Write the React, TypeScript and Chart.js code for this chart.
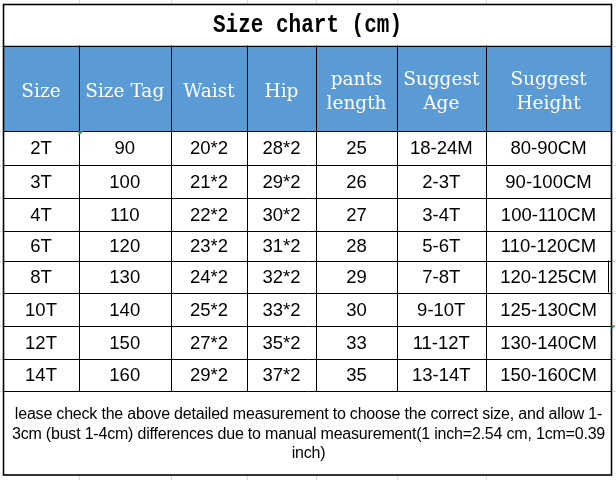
import React, { useEffect, useRef } from "react";
import { Chart, registerables } from "chart.js";

Chart.register(...registerables);

// ---- data ----
const titleText = "Size chart (cm)";
const headers: string[][] = [
  ["Size"],
  ["Size Tag"],
  ["Waist"],
  ["Hip"],
  ["pants", "length"],
  ["Suggest", "Age"],
  ["Suggest", "Height"],
];
const sizes = ["2T", "3T", "4T", "6T", "8T", "10T", "12T", "14T"];
const sizeTags = [90, 100, 110, 120, 130, 140, 150, 160];
const waist = ["20*2", "21*2", "22*2", "23*2", "24*2", "25*2", "27*2", "29*2"];
const hip = ["28*2", "29*2", "30*2", "31*2", "32*2", "33*2", "35*2", "37*2"];
const pantsLength = [25, 26, 27, 28, 29, 30, 33, 35];
const suggestAge = ["18-24M", "2-3T", "3-4T", "5-6T", "7-8T", "9-10T", "11-12T", "13-14T"];
const suggestHeight = [
  "80-90CM",
  "90-100CM",
  "100-110CM",
  "110-120CM",
  "120-125CM",
  "125-130CM",
  "130-140CM",
  "150-160CM",
];
const noteLines = [
  "lease check the above detailed measurement to choose the correct size, and allow 1-",
  "3cm (bust 1-4cm) differences due to manual measurement(1 inch=2.54 cm, 1cm=0.39",
  "inch)",
];

// ---- layout (scale units) ----
const COL_EDGES = [3.5, 78.5, 171, 247, 316, 397, 485.5, 611.5];
const TITLE_TOP = 4.5;
const HEADER_TOP = 45.5;
const ROW_EDGES = [131, 164.5, 197.5, 230.5, 260.5, 292.5, 325.5, 358.5, 391];
const TABLE_BOTTOM = 475;
const W = 616;
const H = 480;

const tablePlugin = {
  id: "sizeTable",
  beforeDatasetsDraw(chart: any) {
    const ctx: CanvasRenderingContext2D = chart.ctx;
    const xs = chart.scales.x;
    const ys = chart.scales.y;
    const px = (v: number) => xs.getPixelForValue(v);
    const py = (v: number) => ys.getPixelForValue(v);
    const L = COL_EDGES[0];
    const R = COL_EDGES[COL_EDGES.length - 1];
    ctx.save();
    ctx.fillStyle = "#ffffff";
    ctx.fillRect(px(0), py(0), px(W) - px(0), py(H) - py(0));

    // faint spreadsheet gridlines outside the table
    ctx.strokeStyle = "#d9d9d9";
    ctx.lineWidth = 1;
    ctx.beginPath();
    for (let i = 1; i < COL_EDGES.length - 1; i++) {
      const x = Math.round(px(COL_EDGES[i])) + 0.5;
      ctx.moveTo(x, py(0));
      ctx.lineTo(x, py(TITLE_TOP));
      ctx.moveTo(x, py(TABLE_BOTTOM));
      ctx.lineTo(x, py(H));
    }
    [HEADER_TOP, ...ROW_EDGES].forEach((e) => {
      const y = Math.round(py(e)) + 0.5;
      ctx.moveTo(px(0), y);
      ctx.lineTo(px(L), y);
      ctx.moveTo(px(R), y);
      ctx.lineTo(px(W), y);
    });
    ctx.stroke();

    // header background
    ctx.fillStyle = "#5b9bd5";
    ctx.fillRect(px(L), py(HEADER_TOP), px(R) - px(L), py(ROW_EDGES[0]) - py(HEADER_TOP));

    // title
    ctx.fillStyle = "#000000";
    ctx.textAlign = "center";
    ctx.textBaseline = "middle";
    ctx.font = "bold 21px 'Liberation Mono', monospace";
    ctx.save();
    ctx.translate(px((L + R) / 2), py((TITLE_TOP + HEADER_TOP) / 2) + 1);
    ctx.scale(1, 1.2);
    ctx.fillText(titleText, 0, 0);
    ctx.restore();

    // header text
    ctx.fillStyle = "#ffffff";
    ctx.font = "18.5px 'DejaVu Serif', serif";
    const hMid = (HEADER_TOP + ROW_EDGES[0]) / 2 + 3.5;
    headers.forEach((lines, c) => {
      const cx = px((COL_EDGES[c] + COL_EDGES[c + 1]) / 2);
      if (lines.length === 1) {
        ctx.fillText(lines[0], cx, py(hMid));
      } else {
        ctx.fillText(lines[0], cx, py(hMid - 12));
        ctx.fillText(lines[1], cx, py(hMid + 12.5));
      }
    });

    // data text
    const cols: (string | number)[][] = [sizes, sizeTags, waist, hip, pantsLength, suggestAge, suggestHeight];
    ctx.fillStyle = "#000000";
    ctx.font = "18.5px 'Liberation Sans', Arial, sans-serif";
    for (let r = 0; r < sizes.length; r++) {
      const cy = py((ROW_EDGES[r] + ROW_EDGES[r + 1]) / 2) + 1.5;
      cols.forEach((col, c) => {
        const cx = px((COL_EDGES[c] + COL_EDGES[c + 1]) / 2);
        ctx.fillText(String(col[r]), cx, cy);
      });
    }

    // note text
    ctx.font = "16px 'Liberation Sans', Arial, sans-serif";
    (ctx as any).letterSpacing = "-0.2px";
    const noteY = [415, 434.5, 454];
    noteLines.forEach((t, i) => {
      ctx.fillText(t, px((L + R) / 2 + 1), py(noteY[i]));
    });
    (ctx as any).letterSpacing = "0px";

    // inner lines
    ctx.strokeStyle = "#000000";
    ctx.lineWidth = 1;
    ctx.beginPath();
    for (let i = 1; i < COL_EDGES.length - 1; i++) {
      const x = Math.round(px(COL_EDGES[i])) + 0.5;
      ctx.moveTo(x, py(HEADER_TOP));
      ctx.lineTo(x, py(ROW_EDGES[ROW_EDGES.length - 1]));
    }
    [HEADER_TOP, ...ROW_EDGES].forEach((e) => {
      const y = Math.round(py(e)) + 0.5;
      ctx.moveTo(px(L), y);
      ctx.lineTo(px(R), y);
    });
    // small extra cell edge in the 8T row
    const xe = Math.round(px(608)) + 0.5;
    ctx.moveTo(xe, py(ROW_EDGES[4]));
    ctx.lineTo(xe, py(ROW_EDGES[5]));
    ctx.stroke();

    // outer border
    ctx.lineWidth = 1.6;
    ctx.strokeRect(px(L), py(TITLE_TOP), px(R) - px(L), py(TABLE_BOTTOM) - py(TITLE_TOP));

    // spreadsheet markers
    ctx.fillStyle = "#2e8b3a";
    ctx.beginPath();
    ctx.moveTo(px(COL_EDGES[1]), py(ROW_EDGES[0]));
    ctx.lineTo(px(COL_EDGES[1] + 5), py(ROW_EDGES[0]));
    ctx.lineTo(px(COL_EDGES[1]), py(ROW_EDGES[0] + 5));
    ctx.closePath();
    ctx.fill();
    ctx.beginPath();
    ctx.moveTo(px(R), py(ROW_EDGES[6]));
    ctx.lineTo(px(R + 4), py(ROW_EDGES[6]));
    ctx.lineTo(px(R), py(ROW_EDGES[6] + 4));
    ctx.closePath();
    ctx.fill();
    ctx.restore();
  },
};

export default function App() {
  const ref = useRef<HTMLCanvasElement | null>(null);
  useEffect(() => {
    if (!ref.current) return;
    const chart = new Chart(ref.current, {
      type: "scatter",
      data: { datasets: [{ data: [], pointRadius: 0 }] },
      options: {
        animation: false,
        responsive: false,
        events: [],
        layout: { padding: 0 },
        plugins: { legend: { display: false }, tooltip: { enabled: false }, title: { display: false } },
        scales: {
          x: { type: "linear", min: 0, max: W, display: false },
          y: { type: "linear", min: 0, max: H, reverse: true, display: false },
        },
      },
      plugins: [tablePlugin],
    });
    return () => chart.destroy();
  }, []);
  return (
    <div style={{ position: "fixed", left: 0, top: 0, width: W, height: H, background: "#fff" }}>
      <canvas ref={ref} width={W} height={H} style={{ display: "block", width: W, height: H }} />
    </div>
  );
}
